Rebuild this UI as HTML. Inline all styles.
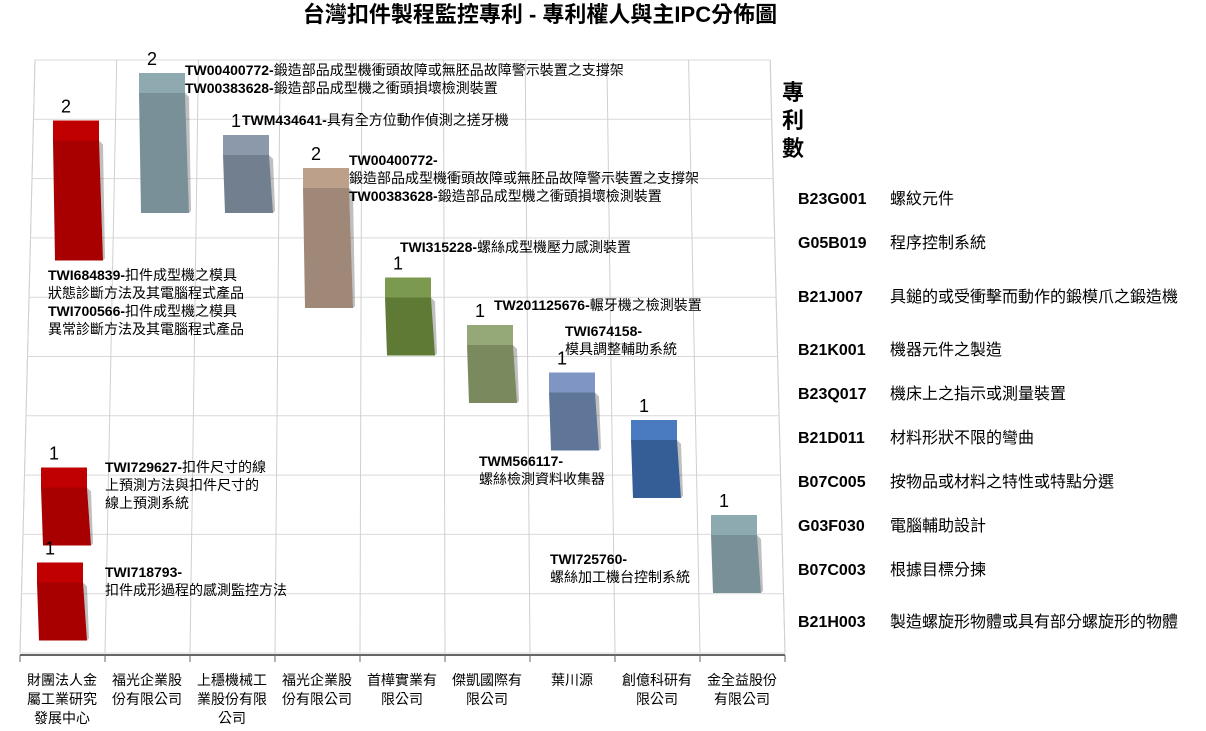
<!DOCTYPE html>
<html><head><meta charset="utf-8">
<style>
body{margin:0;background:#fff;width:1206px;height:726px;overflow:hidden;font-family:"Liberation Sans","Noto Sans CJK TC",sans-serif;}
svg text{font-family:"Liberation Sans","Noto Sans CJK TC",sans-serif;}
</style></head><body>
<svg id="chart" width="1206" height="726" xmlns="http://www.w3.org/2000/svg">
<text x="540" y="22" font-size="22" font-weight="bold" text-anchor="middle" fill="#000">台灣扣件製程監控專利 - 專利權人與主IPC分佈圖</text>
<g id="grid"></g>
<g id="bars"></g>
<g id="labels"></g>
<text font-size="22" font-weight="bold" fill="#000"><tspan x="782" y="100">專</tspan><tspan x="782" y="128">利</tspan><tspan x="782" y="156">數</tspan></text>
</svg>
<script>
const companies=["財團法人金|屬工業研究|發展中心","福光企業股|份有限公司","上穩機械工|業股份有限|公司","福光企業股|份有限公司","首樺實業有|限公司","傑凱國際有|限公司","葉川源","創億科研有|限公司","金全益股份|有限公司"];
const ipcCodes=["B23G001","G05B019","B21J007","B21K001","B23Q017","B21D011","B07C005","G03F030","B07C003","B21H003"];
const ipcNames=["螺紋元件","程序控制系統","具鎚的或受衝擊而動作的鍛模爪之鍛造機","機器元件之製造","機床上之指示或測量裝置","材料形狀不限的彎曲","按物品或材料之特性或特點分選","電腦輔助設計","根據目標分揀","製造螺旋形物體或具有部分螺旋形的物體"];
const barCompany=[0,1,2,3,4,5,6,7,0,8,0];
const barIpc=[1,0,0,2,3,4,5,6,7,8,9];
const barValue=[2,2,1,2,1,1,1,1,1,1,1];
const companyTop=["#c00000","#8fa9b0","#8c99aa","#bda08a","#7b9a4f","#94a878","#7f96c4","#4a7ac0","#8caab0"];
const companyFront=["#a80000","#7a9099","#727f8f","#a08878","#5e7a34","#7a8a5e","#5f7699","#345e95","#7a9098"];
const barNotes=[
 [["TWI684839-","扣件成型機之模具"],["","狀態診斷方法及其電腦程式產品"],["TWI700566-","扣件成型機之模具"],["","異常診斷方法及其電腦程式產品"]],
 [["TW00400772-","鍛造部品成型機衝頭故障或無胚品故障警示裝置之支撐架"],["TW00383628-","鍛造部品成型機之衝頭損壞檢測裝置"]],
 [["TWM434641-","具有全方位動作偵測之搓牙機"]],
 [["TW00400772-",""],["","鍛造部品成型機衝頭故障或無胚品故障警示裝置之支撐架"],["TW00383628-","鍛造部品成型機之衝頭損壞檢測裝置"]],
 [["TWI315228-","螺絲成型機壓力感測裝置"]],
 [["TW201125676-","輾牙機之檢測裝置"]],
 [["TWI674158-",""],["","模具調整輔助系統"]],
 [["TWM566117-",""],["","螺絲檢測資料收集器"]],
 [["TWI729627-","扣件尺寸的線"],["","上預測方法與扣件尺寸的"],["","線上預測系統"]],
 [["TWI725760-",""],["","螺絲加工機台控制系統"]],
 [["TWI718793-",""],["","扣件成形過程的感測監控方法"]]
];
const notePos=[[48,280],[185,75],[242,125],[349,165],[400,252],[494,310],[565,336],[479,466],[105,472],[550,564],[105,577]];
const NS="http://www.w3.org/2000/svg";
function mk(tag,attrs,parent){const e=document.createElementNS(NS,tag);for(const k in attrs)e.setAttribute(k,attrs[k]);parent.appendChild(e);return e;}
function rowY(i){return 213+i*47.5;}
function colX(c,r){return 78+c*84-r*2;}
function hScale(v){return 62*v+16;}
const grid=document.getElementById('grid'),bars=document.getElementById('bars'),labels=document.getElementById('labels');
mk('path',{d:'M35 60 L770 60 L785 653 L20 653 Z',fill:'none',stroke:'#d9d9d9','stroke-width':1},grid);
for(let i=0;i<=10;i++){const y=60+i*59.3;const l=mk('line',{x1:35-i*1.5,y1:y,x2:770+i*1.5,y2:y,stroke:'#d9d9d9'},grid);}
for(let c=0;c<=9;c++){const xb=20+c*85,xt=35+c*81.7;const l=mk('line',{x1:xt,y1:60,x2:xb,y2:653,stroke:'#d0d0d0'},grid);}
mk('line',{x1:20,y1:655,x2:785,y2:655,stroke:'#666','stroke-width':2},grid);
for(let c=0;c<=9;c++){mk('line',{x1:20+c*85,y1:655,x2:20+c*85,y2:662,stroke:'#666'},grid);}
companies.forEach((n,c)=>{n.split('|').forEach((ln,j)=>{const t=mk('text',{x:62+c*85,y:685+j*19,'font-size':14,'text-anchor':'middle',fill:'#000'},labels);t.textContent=ln;});});
ipcCodes.forEach((code,i)=>{const y=[204,248,302,355,399,443,487,531,575,627][i];const t=mk('text',{x:798,y:y,'font-size':16,'font-weight':'bold',fill:'#000'},labels);t.textContent=code;const t2=mk('text',{x:890,y:y,'font-size':16,fill:'#000'},labels);t2.textContent=ipcNames[i];});
barValue.forEach((v,k)=>{const c=barCompany[k],r=barIpc[k];const cx=colX(c,r),bottom=rowY(r),h=hScale(v),w=46,top=bottom-h;
 const g=mk('g',{},bars);
 mk('path',{d:`M${cx-w/2} ${top} L${cx+w/2} ${top} L${cx+w/2} ${top+20} L${cx-w/2} ${top+20} Z`,fill:companyTop[c]},g);
 mk('path',{d:`M${cx-w/2} ${top+20} L${cx+w/2} ${top+20} L${cx+w/2+4} ${bottom} L${cx-w/2+2} ${bottom} Z`,fill:companyFront[c]},g);
 mk('path',{d:`M${cx+w/2} ${top+20} L${cx+w/2+4} ${top+24} L${cx+w/2+6} ${bottom-2} L${cx+w/2+4} ${bottom} Z`,fill:'rgba(0,0,0,0.25)'},g);
 const vl=mk('text',{x:cx-w/2+8,y:top-8,'font-size':18,fill:'#000'},labels);vl.textContent=v;
 const p=notePos[k];barNotes[k].forEach((ln,j)=>{const t=mk('text',{x:p[0],y:p[1]+j*18,'font-size':14,fill:'#000'},labels);
  if(ln[0]){const b=mk('tspan',{'font-weight':'bold'},t);b.textContent=ln[0];}
  if(ln[1]){const s=mk('tspan',{},t);s.textContent=ln[1];}});
});
</script>
</body></html>
